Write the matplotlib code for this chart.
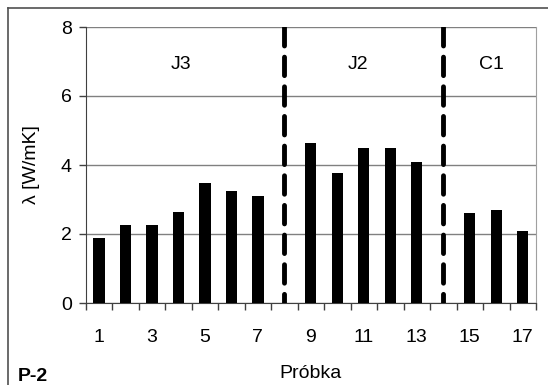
import matplotlib
matplotlib.use("Agg")
import matplotlib.pyplot as plt
from matplotlib.lines import Line2D

plt.rcParams['font.family'] = ['Liberation Sans', 'DejaVu Sans']

samples = [1, 2, 3, 4, 5, 6, 7, 9, 10, 11, 12, 13, 15, 16, 17]
values = [1.88, 2.26, 2.26, 2.65, 3.48, 3.26, 3.10,
          4.64, 3.77, 4.48, 4.48, 4.09,
          2.60, 2.71, 2.10]
boundaries = [8, 14]
groups = ["J3", "J2", "C1"]
group_x = [4.1, 10.8, 15.8]
xtick_labels = [1, 3, 5, 7, 9, 11, 13, 15, 17]

FS = 14
W, H = 548, 385
fig = plt.figure(figsize=(W / 100, H / 100), dpi=100)
ax = fig.add_axes([85.6 / W, (H - 303) / H, (536 - 85.6) / W, (303 - 27) / H])

ax.bar(samples, values, width=0.43, color='black', zorder=3)

ax.set_xlim(0.5, 17.5)
ax.set_ylim(0, 8)
ax.set_yticks([0, 2, 4, 6, 8])
ax.yaxis.grid(True, color='#808080', linewidth=1)
ax.set_axisbelow(True)

ax.set_xticks([i + 0.5 for i in range(0, 18)], minor=True)
ax.set_xticks(xtick_labels)
ax.set_xticklabels([str(v) for v in xtick_labels], fontsize=FS)
ax.tick_params(axis='x', which='major', length=0, pad=18.5)
ax.tick_params(axis='x', which='minor', length=5, direction='out', color='#404040', width=1)
ax.tick_params(axis='y', length=5, direction='out', color='#404040', width=1, labelsize=FS, pad=5)

for s in ['left', 'bottom']:
    ax.spines[s].set_color('#404040')
ax.spines['right'].set_color('#a0a0a0')
ax.spines['top'].set_visible(False)

for b in boundaries:
    ax.plot([b, b], [8, 0], color='black', linewidth=3.5, linestyle=(0, (3.8, 2.3)),
            solid_capstyle='butt', dash_capstyle='round', zorder=4)

for g, x in zip(groups, group_x):
    ax.text(x, 6.9, g, ha='center', va='center', fontsize=FS)

ax.set_ylabel('λ [W/mK]', fontsize=FS, labelpad=15)
ax.set_xlabel('Próbka', fontsize=FS, labelpad=14)

fig.text(18 / W, 1 - 381 / H, 'P-2', fontsize=FS, fontweight='bold', va='baseline', ha='left')

fig.add_artist(Line2D([8 / W, 8 / W], [0, 1 - 8 / H], color='#505050', linewidth=1.2,
                      transform=fig.transFigure))
fig.add_artist(Line2D([8 / W, 1], [1 - 8 / H, 1 - 8 / H], color='#505050', linewidth=1.2,
                      transform=fig.transFigure))

fig.savefig('out.png', dpi=100)
